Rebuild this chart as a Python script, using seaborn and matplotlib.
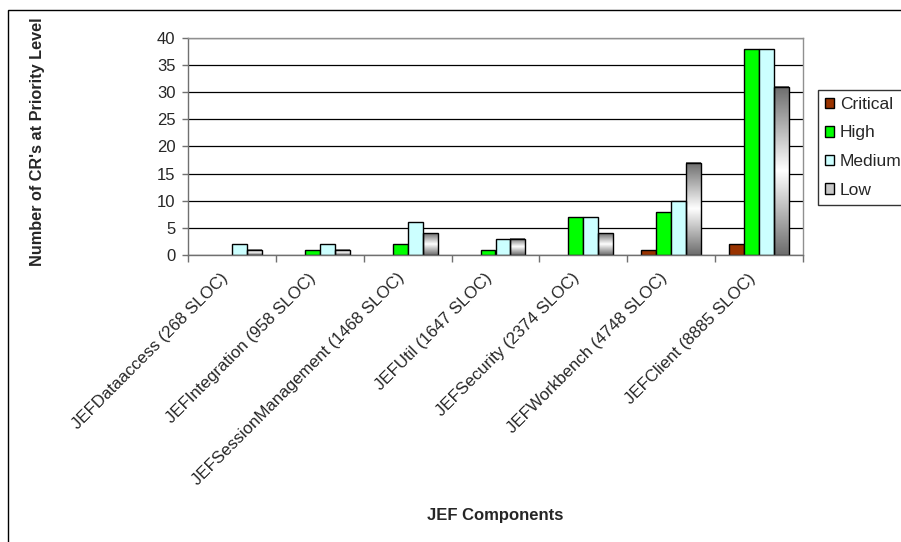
import numpy as np
import pandas as pd
import seaborn as sns
import matplotlib
matplotlib.use("Agg")
import matplotlib.pyplot as plt
from matplotlib.patches import Patch, Rectangle
from matplotlib.colors import LinearSegmentedColormap
from matplotlib.transforms import ScaledTranslation

# Change requests per JEF component, split by priority level
components = [
    "JEFDataaccess (268 SLOC)",
    "JEFIntegration (958 SLOC)",
    "JEFSessionManagement (1468 SLOC)",
    "JEFUtil (1647 SLOC)",
    "JEFSecurity (2374 SLOC)",
    "JEFWorkbench (4748 SLOC)",
    "JEFClient (8885 SLOC)",
]
levels = ["Critical", "High", "Medium", "Low"]
critical = [0, 0, 0, 0, 0, 1, 2]
high = [0, 1, 2, 1, 7, 8, 38]
medium = [2, 2, 6, 3, 7, 10, 38]
low = [1, 1, 4, 3, 4, 17, 31]
yticks = [0, 5, 10, 15, 20, 25, 30, 35, 40]

level_colors = {"Critical": "#993300", "High": "#00FF00",
                "Medium": "#CCFFFF", "Low": "#C8C8C8"}

df = pd.DataFrame({
    "component": components * len(levels),
    "level": np.repeat(levels, len(components)),
    "count": critical + high + medium + low,
})

sns.set_style("white")
plt.rcParams["font.family"] = ["Liberation Sans", "DejaVu Sans"]

W, H = 901, 542
fig = plt.figure(figsize=(W / 100, H / 100), dpi=100)
ax = fig.add_axes([188 / W, 1 - 255 / H, 615 / W, 217 / H])

sns.barplot(data=df, x="component", y="count", hue="level",
            order=components, hue_order=levels, palette=level_colors,
            saturation=1, width=0.68, errorbar=None,
            edgecolor="black", linewidth=1, legend=False, ax=ax)

# hide outlines of empty bars
for cont in ax.containers:
    for bar in cont:
        if bar.get_height() == 0:
            bar.set_linewidth(0)

# metallic grey shading on the "Low" bars
shade = LinearSegmentedColormap.from_list(
    "shade", ["#6c6c6c", "#ffffff", "#6c6c6c"])
grad = np.linspace(0, 1, 256).reshape(-1, 1)
for bar in ax.containers[3]:
    x0, w, h = bar.get_x(), bar.get_width(), bar.get_height()
    if h <= 0:
        continue
    ax.imshow(grad, cmap=shade, aspect="auto", extent=[x0, x0 + w, 0, h],
              origin="upper", zorder=0.9, interpolation="bilinear")
    bar.set_facecolor("none")
    bar.set_zorder(1)

ax.set_xlim(-0.5, len(components) - 0.5)
ax.set_ylim(0, 40)
ax.set_yticks(yticks)
ax.set_axisbelow(True)
ax.yaxis.grid(True, color="#000000", linewidth=0.9)
ax.xaxis.grid(False)

for side in ["top", "right"]:
    ax.spines[side].set_color("#909090")
    ax.spines[side].set_linewidth(1)
for side in ["left", "bottom"]:
    ax.spines[side].set_color("#707070")
    ax.spines[side].set_linewidth(1)

# category boundary ticks below the axis
ax.set_xticks(np.arange(-0.5, len(components)), minor=True)
ax.tick_params(axis="x", which="minor", bottom=True, length=5,
               width=1, color="#707070", direction="out")
ax.tick_params(axis="x", which="major", length=0, pad=15, labelsize=12.2)
ax.tick_params(axis="y", left=True, length=4, width=1, color="#707070",
               direction="out", pad=5, labelsize=12)
ax.set_xticks(range(len(components)))
ax.set_xticklabels(components, rotation=45, ha="right",
                   rotation_mode="anchor", va="center")
shift = ScaledTranslation(-6 / 100, 0, fig.dpi_scale_trans)
for lbl in ax.get_xticklabels():
    lbl.set_transform(lbl.get_transform() + shift)

ax.set_xlabel("JEF Components", fontsize=12, fontweight="bold")
ax.xaxis.set_label_coords(0.5, (255 - 508) / 217)
ax.set_ylabel("Number of CR's at Priority Level", fontsize=11.7,
              fontweight="bold")
ax.yaxis.set_label_coords((45 - 188) / 615, (255 - 142) / 217)

handles = [Patch(facecolor=level_colors[lv], edgecolor="black", linewidth=1,
                 label=lv) for lv in levels]
leg = fig.legend(handles=handles, loc="upper left",
                 bbox_to_anchor=(818 / W, 1 - 90 / H), fontsize=12.5,
                 frameon=True, fancybox=False, handlelength=0.55,
                 handleheight=0.55, handletextpad=0.3, labelspacing=0.78,
                 borderpad=0.4, borderaxespad=0)
leg.get_frame().set_edgecolor("black")
leg.get_frame().set_linewidth(1)

# outer chart frame
fig.patches.append(Rectangle((8 / W, -0.5), 2, 1.5 - 10 / H,
                             transform=fig.transFigure, fill=False,
                             edgecolor="black", linewidth=1))

fig.savefig("out.png", dpi=100)
